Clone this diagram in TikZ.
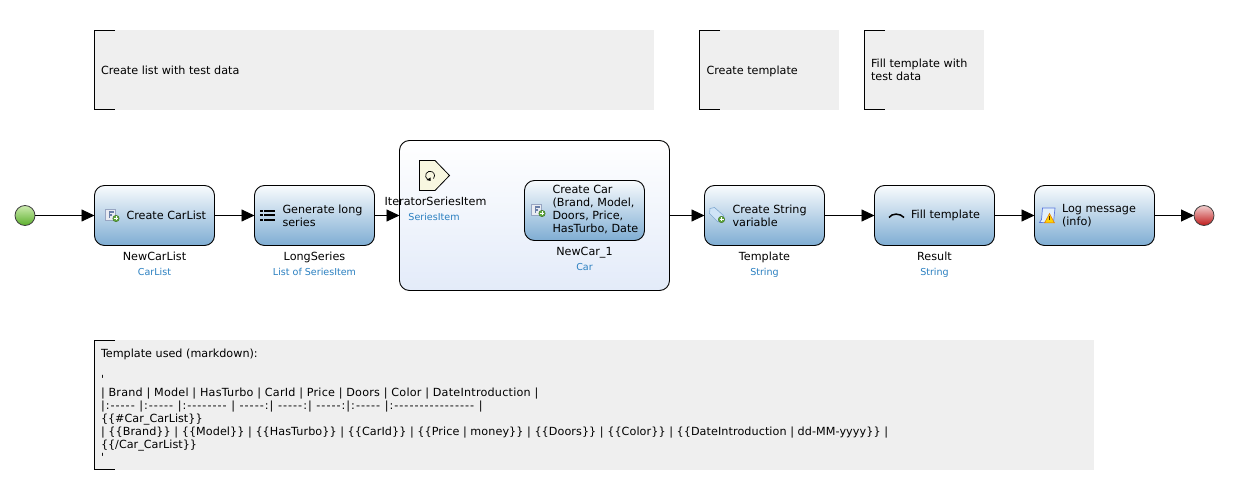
\documentclass[tikz,border=0pt]{standalone}
\usepackage{fontspec}
\usetikzlibrary{arrows.meta}
\newfontfamily\diagfont{DejaVu Sans}
\definecolor{notegrey}{HTML}{EFEFEF}
\definecolor{typeblue}{HTML}{2A7FC0}
\definecolor{acttop}{HTML}{F8FBFD}
\definecolor{actbot}{HTML}{7FADD3}
\definecolor{looptop}{HTML}{FFFFFF}
\definecolor{loopbot}{HTML}{E3EBF9}
\definecolor{plusgreen}{HTML}{5FA83C}
\definecolor{iconblue}{HTML}{6A7FA8}
\definecolor{tagfill}{HTML}{CFE4F7}
\definecolor{tagline}{HTML}{7FA8D0}
\definecolor{startop}{HTML}{CDEBB0}
\definecolor{stabot}{HTML}{5CB02C}
\definecolor{endtop}{HTML}{F2CFCF}
\definecolor{endbot}{HTML}{C01A1A}
\newcommand{\addbadge}[2]{%
  \fill[plusgreen,draw=plusgreen!70!black,line width=.5pt] (#1,#2) circle (3.2);
  \draw[white,line width=1pt] (#1-2,#2) -- (#1+2,#2) (#1,#2-2) -- (#1,#2+2);}
\newcommand{\objicon}[2]{%
  \fill[iconblue!15!white,draw=iconblue!70,line width=.7pt] (#1,#2) rectangle ++(10,11);
  \fill[iconblue] (#1+3,#2+2) rectangle ++(5,1.6);
  \fill[iconblue] (#1+3,#2+2) rectangle ++(1.8,7.5);
  \fill[iconblue] (#1+3,#2+5.2) rectangle ++(3.6,1.4);
  \addbadge{#1+10.5}{#2+9.5}}
\newcommand{\spaced}[2]{{\addfontfeatures{LetterSpace=#1}#2}}
\tikzset{
  x=1pt,y=-1pt,
  every node/.style={font=\diagfont\fontsize{11.2}{13}\selectfont,inner sep=0pt,outer sep=0pt},
  activity/.style={draw=black,line width=.9pt,rounded corners=10pt,minimum width=120pt,minimum height=60pt,
    top color=acttop,bottom color=actbot},
  loopbox/.style={draw=black,line width=.9pt,rounded corners=10pt,minimum width=270pt,minimum height=150pt,
    top color=looptop,bottom color=loopbot},
  acttext/.style={anchor=west,align=left},
  varname/.style={anchor=base},
  vartype/.style={anchor=base,text=typeblue,font=\diagfont\fontsize{9.55}{11}\selectfont},
  note/.style={fill=notegrey,minimum width=#1,anchor=north west},
  notetext/.style={anchor=west,align=left},
  flow/.style={draw=black,line width=.9pt,-{Triangle[length=13pt,width=12pt]}},
  bracket/.style={draw=black,line width=.9pt},
  event/.style={circle,draw=black!75,line width=.8pt,minimum size=20pt},
}
\begin{document}
\begin{tikzpicture}
\useasboundingbox (0,0) rectangle (1234,494);
% annotations
\node[note=560pt,minimum height=80pt] (n1) at (94,30) {};
\node[note=140pt,minimum height=80pt] (n2) at (699,30) {};
\node[note=120pt,minimum height=80pt] (n3) at (864,30) {};
\node[note=1000pt,minimum height=130pt] (n4) at (94,340) {};
\draw[bracket] (115,30.5) -- (94.5,30.5) -- (94.5,109.5) -- (115,109.5);
\draw[bracket] (720,30.5) -- (699.5,30.5) -- (699.5,109.5) -- (720,109.5);
\draw[bracket] (885,30.5) -- (864.5,30.5) -- (864.5,109.5) -- (885,109.5);
\draw[bracket] (115,340.5) -- (94.5,340.5) -- (94.5,469.5) -- (115,469.5);
\node[anchor=base west] (n1t) at (101,74.5) {Create list with test data};
\node[anchor=base west] (n2t) at (706.5,74.5) {Create template};
\node[notetext] (n3t) at (871,69.5) {Fill template with\\test data};
\node[anchor=north west,align=left] (n4t) at (101,348.5) {Template used (markdown):\\
\mbox{}\\
'\\
\spaced{2}{| Brand | Model | HasTurbo | CarId | Price | Doors | Color | DateIntroduction |}\\
\spaced{9}{|:----- |:----- |:-------- | -----:| -----:| -----:|:----- |:---------------- |}\\
\{\{\#Car\_CarList\}\}\\
\spaced{0.6}{| \{\{Brand\}\} | \{\{Model\}\} | \{\{HasTurbo\}\} | \{\{CarId\}\} | \{\{Price | money\}\} | \{\{Doors\}\} | \{\{Color\}\} | \{\{DateIntroduction | dd-MM-yyyy\}\} |}\\
\{\{/Car\_CarList\}\}\\
'};
% events
\node[event,top color=startop,bottom color=stabot] (start) at (25,215.5) {};
\node[event,top color=endtop,bottom color=endbot] (end) at (1204,215.5) {};
% activities
\node[activity] (a1) at (154.5,215.5) {};
\node[activity] (a2) at (314.5,215.5) {};
\node[loopbox] (loop) at (534.5,215.5) {};
\node[activity] (a3) at (584.5,210.5) {};
\node[activity] (a4) at (764.5,215.5) {};
\node[activity] (a5) at (934.5,215.5) {};
\node[activity] (a6) at (1094.5,215.5) {};
% texts
\node[acttext] (a1t) at (126.5,215.5) {Create CarList};
\node[acttext] (a2t) at (282.5,215.5) {Generate long\\series};
\node[acttext] (a3t) at (552.5,209.5) {Create Car\\(Brand, Model,\\Doors, Price,\\HasTurbo, Date};
\node[acttext] (a4t) at (732.5,215.5) {Create String\\variable};
\node[acttext] (a5t) at (911,215.5) {Fill template};
\node[acttext] (a6t) at (1062,215.5) {Log message\\(info)};
\node[varname] (v1) at (154.5,261) {NewCarList};
\node[vartype] (t1) at (154.5,275.5) {CarList};
\node[varname] (v2) at (314.5,261) {LongSeries};
\node[vartype] (t2) at (314.5,275.5) {List of SeriesItem};
\node[varname] (v3) at (584.5,256) {NewCar\_1};
\node[vartype] (t3) at (584.5,270.5) {Car};
\node[varname] (v4) at (764.5,261) {Template};
\node[vartype] (t4) at (764.5,275.5) {String};
\node[varname] (v5) at (934.5,261) {Result};
\node[vartype] (t5) at (934.5,275.5) {String};
\node[varname] (v6) at (435.5,206) {IteratorSeriesItem};
\node[vartype] (t6) at (434,220.5) {SeriesItem};
% connectors
\draw[flow] (start) -- (a1);
\draw[flow] (a1) -- (a2);
\draw[flow] (a2) -- (loop);
\draw[flow] (loop) -- (a4);
\draw[flow] (a4) -- (a5);
\draw[flow] (a5) -- (a6);
\draw[flow] (a6) -- (end);
% iterator icon
\draw[draw=black,line width=.8pt,fill=yellow!10!white!97!black] (419.5,160.5) -- (435,160.5) -- (449.5,175.5) -- (435,190.5) -- (419.5,190.5) -- cycle;
\draw[black,line width=.7pt] (427.8,179.6) arc (120:400:4.5);
\fill[black] (426.5,180) -- (430.5,177.5) -- (430.5,181) -- cycle;
% icons
\objicon{105.5}{209}
\objicon{531.5}{204}
\foreach \yy in {210.8,215.3,219.8}{
  \fill[black] (259.5,\yy-1.2) rectangle ++(3,2.4);
  \fill[black] (264,\yy-1.2) rectangle ++(11,2.4);
}
% string icon
\fill[tagfill,draw=tagline,line width=.6pt] (710,208.5) -- (714.5,207.5) -- (724,216) -- (718,222) -- (709.5,213.5) -- cycle;
\addbadge{721.5}{219.5}
% fill template icon
\draw[black,line width=1.5pt] (889,217.5) .. controls (892,213) and (900,213) .. (904,217.5);
% log icon
\fill[tagfill!60!white,draw=tagline!70!blue,line width=.7pt] (1042.5,208) -- (1055,208) -- (1053.5,222) -- (1039.5,222.5) -- (1041.5,219.5) -- cycle;
\fill[yellow!70!orange,draw=orange!90!black,line width=.5pt] (1044.5,223) -- (1049.5,213.5) -- (1054.5,223) -- cycle;
\draw[black!70!orange,line width=.8pt] (1049.5,216.5) -- (1049.5,220);
\end{tikzpicture}
\end{document}
